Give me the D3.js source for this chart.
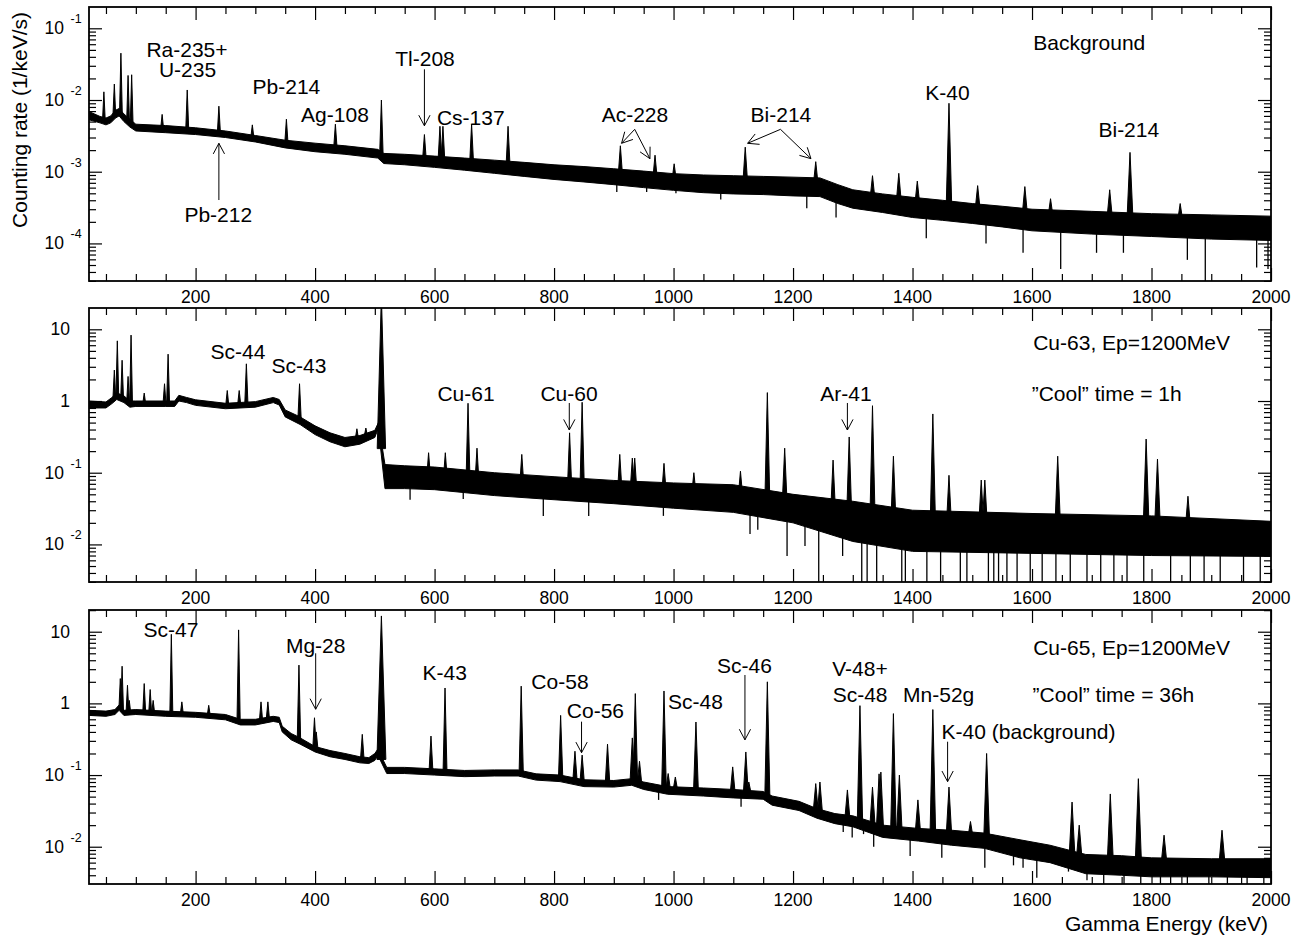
<!DOCTYPE html>
<html>
<head>
<meta charset="utf-8">
<script src="https://cdn.jsdelivr.net/npm/d3@7"></script>
<style>
  body { margin: 0; background: #fff; }
  svg text { font-family: "Liberation Sans", Arial, Helvetica, sans-serif; fill: #000; }
</style>
</head>
<body>
<div id="chart"></div>
<script>
// ---- shared x axis ----
const energyDomain = [21.6, 2000]
const xMajorTicks = [200, 400, 600, 800, 1000, 1200, 1400, 1600, 1800, 2000]

// ---- panel 1: background ----
const bgContE = [21.6, 40, 50, 58, 66, 72, 80, 90, 100, 150, 200, 250, 300, 350, 400, 450, 505, 515, 550, 600, 650, 700, 750, 800, 850, 900, 950, 1000, 1050, 1100, 1150, 1200, 1245, 1275, 1300, 1350, 1400, 1450, 1500, 1550, 1600, 1700, 1800, 1900, 2000]
const bgContLo = [5.3e-3, 4.8e-3, 4.5e-3, 4.8e-3, 5.6e-3, 6.0e-3, 5.0e-3, 4.2e-3, 3.7e-3, 3.5e-3, 3.3e-3, 3.0e-3, 2.6e-3, 2.15e-3, 1.9e-3, 1.75e-3, 1.55e-3, 1.3e-3, 1.25e-3, 1.15e-3, 1.05e-3, 0.95e-3, 0.86e-3, 0.78e-3, 0.72e-3, 0.66e-3, 0.6e-3, 0.55e-3, 0.51e-3, 0.49e-3, 0.48e-3, 0.46e-3, 0.45e-3, 0.36e-3, 0.31e-3, 0.27e-3, 0.23e-3, 0.21e-3, 0.19e-3, 0.17e-3, 0.15e-3, 0.135e-3, 0.125e-3, 0.115e-3, 0.11e-3]
const bgContHi = [6.9e-3, 5.9e-3, 5.6e-3, 6.0e-3, 7.2e-3, 7.6e-3, 6.4e-3, 5.4e-3, 4.6e-3, 4.4e-3, 4.1e-3, 3.7e-3, 3.2e-3, 2.75e-3, 2.5e-3, 2.3e-3, 2.05e-3, 1.8e-3, 1.75e-3, 1.65e-3, 1.55e-3, 1.45e-3, 1.35e-3, 1.25e-3, 1.18e-3, 1.1e-3, 1.02e-3, 0.94e-3, 0.9e-3, 0.88e-3, 0.86e-3, 0.84e-3, 0.82e-3, 0.66e-3, 0.56e-3, 0.49e-3, 0.44e-3, 0.4e-3, 0.36e-3, 0.33e-3, 0.3e-3, 0.28e-3, 0.26e-3, 0.25e-3, 0.24e-3]
const bgPeakE = [46.5, 64, 75, 87, 93, 144, 186, 239, 295, 352, 434, 511, 583, 609, 614, 662, 723, 911, 969, 1001, 1120, 1238, 1333, 1377, 1408, 1461, 1509, 1588, 1631, 1730, 1764, 1848]
const bgPeakTop = [1.3e-2, 1.67e-2, 4.5e-2, 2.2e-2, 2.25e-2, 6.3e-3, 1.38e-2, 8.2e-3, 4.5e-3, 5.4e-3, 4.6e-3, 1.0e-2, 3.3e-3, 4.3e-3, 4.3e-3, 4.6e-3, 4.3e-3, 2.3e-3, 1.7e-3, 1.29e-3, 2.2e-3, 1.38e-3, 8.8e-4, 9.5e-4, 7.4e-4, 9.0e-3, 6.4e-4, 6.2e-4, 4.2e-4, 5.6e-4, 1.86e-3, 3.6e-4]
const bgDipE = [905, 955, 1004, 1079, 1223, 1272, 1423, 1523, 1585, 1648, 1708, 1753, 1860, 1890, 1976, 1995]
const bgDipVal = [5.2e-4, 5.2e-4, 5.0e-4, 4.1e-4, 3.1e-4, 2.3e-4, 1.18e-4, 1.0e-4, 7.4e-5, 4.4e-5, 7.4e-5, 7.4e-5, 5.9e-5, 2.5e-5, 4.6e-5, 4.4e-5]

// ---- panel 2: Cu-63, 1 h ----
const cu63ContE = [21.6, 50, 60, 68, 80, 90, 100, 150, 165, 172, 185, 200, 250, 300, 330, 340, 350, 375, 400, 425, 450, 475, 500, 506, 517, 550, 600, 700, 800, 900, 1000, 1100, 1200, 1300, 1400, 1600, 1800, 2000]
const cu63ContLo = [0.8, 0.8, 0.92, 1.05, 0.95, 0.82, 0.84, 0.84, 0.84, 1.0, 0.95, 0.87, 0.78, 0.82, 0.95, 0.88, 0.6, 0.47, 0.34, 0.27, 0.23, 0.25, 0.31, 0.42, 0.06, 0.06, 0.058, 0.048, 0.042, 0.037, 0.032, 0.028, 0.02, 0.011, 0.008, 0.0075, 0.007, 0.0068]
const cu63ContHi = [1.0, 0.97, 1.12, 1.3, 1.18, 1.0, 1.0, 1.0, 1.0, 1.2, 1.12, 1.04, 0.93, 0.98, 1.12, 1.05, 0.75, 0.6, 0.45, 0.36, 0.31, 0.33, 0.39, 0.5, 0.13, 0.125, 0.12, 0.1, 0.088, 0.078, 0.072, 0.068, 0.05, 0.04, 0.03, 0.027, 0.025, 0.021]
const cu63PeakE = [64, 69, 77, 87, 92, 114, 148, 154, 253, 273, 285, 374, 470, 485, 511, 590, 618, 656, 671, 746, 826, 847, 910, 931, 935, 984, 1034, 1112, 1157, 1186, 1267, 1294, 1333, 1368, 1434, 1461, 1515, 1521, 1643, 1791, 1810, 1861]
const cu63PeakTop = [2.7, 6.9, 3.7, 2.2, 8.3, 1.29, 1.74, 4.5, 1.4, 1.4, 3.3, 1.74, 0.41, 0.42, 30, 0.19, 0.19, 0.93, 0.22, 0.18, 0.36, 0.96, 0.18, 0.16, 0.16, 0.135, 0.1, 0.105, 1.31, 0.22, 0.15, 0.315, 0.86, 0.17, 0.66, 0.092, 0.079, 0.079, 0.17, 0.295, 0.155, 0.047]
const cu63DipE = [559, 648, 782, 858, 983, 1128, 1141, 1190, 1220, 1243, 1283, 1315, 1324, 1340, 1382, 1388, 1424, 1447, 1480, 1491, 1527, 1536, 1544, 1558, 1575, 1597, 1617, 1640, 1664, 1692, 1715, 1737, 1759, 1787, 1832, 1865, 1888, 1915, 1954, 1982]
const cu63DipVal = [0.042, 0.043, 0.025, 0.025, 0.025, 0.014, 0.016, 0.0069, 0.0095, 0.002, 0.0069, 0.002, 0.002, 0.002, 0.002, 0.002, 0.002, 0.002, 0.002, 0.002, 0.002, 0.002, 0.002, 0.002, 0.002, 0.002, 0.002, 0.002, 0.002, 0.002, 0.002, 0.002, 0.002, 0.002, 0.002, 0.002, 0.002, 0.002, 0.002, 0.002]

// ---- panel 3: Cu-65, 36 h ----
const cu65ContE = [21.6, 50, 65, 72, 80, 100, 150, 200, 250, 275, 300, 330, 340, 345, 360, 375, 400, 425, 450, 475, 490, 500, 505, 520, 550, 600, 650, 700, 740, 770, 810, 850, 900, 930, 950, 990, 1050, 1100, 1150, 1165, 1210, 1240, 1270, 1300, 1350, 1410, 1465, 1520, 1580, 1630, 1690, 1750, 1800, 1900, 2000]
const cu65ContLo = [0.68, 0.66, 0.7, 0.8, 0.68, 0.7, 0.66, 0.64, 0.59, 0.5, 0.5, 0.56, 0.54, 0.4, 0.31, 0.27, 0.21, 0.18, 0.165, 0.148, 0.145, 0.16, 0.19, 0.105, 0.105, 0.1, 0.095, 0.097, 0.097, 0.085, 0.081, 0.069, 0.068, 0.072, 0.063, 0.054, 0.051, 0.048, 0.046, 0.038, 0.032, 0.025, 0.021, 0.019, 0.0135, 0.012, 0.0105, 0.0095, 0.007, 0.006, 0.0042, 0.004, 0.0038, 0.0038, 0.0037]
const cu65ContHi = [0.8, 0.78, 0.82, 0.95, 0.8, 0.82, 0.78, 0.75, 0.7, 0.6, 0.6, 0.66, 0.64, 0.48, 0.38, 0.33, 0.25, 0.22, 0.2, 0.18, 0.175, 0.2, 0.23, 0.128, 0.128, 0.122, 0.116, 0.118, 0.118, 0.104, 0.1, 0.086, 0.084, 0.089, 0.08, 0.069, 0.066, 0.063, 0.059, 0.051, 0.043, 0.034, 0.029, 0.027, 0.02, 0.018, 0.017, 0.0155, 0.0125, 0.0105, 0.0078, 0.0075, 0.007, 0.0068, 0.0068]
const cu65PeakE = [74, 77, 86, 89, 114, 124, 129, 159.4, 177, 222, 272, 309.5, 321, 373, 399, 402, 479, 511, 594, 617.5, 745, 811, 835, 847, 889.5, 931, 936, 943, 984, 991, 1003, 1037.5, 1099, 1121, 1126, 1157, 1238, 1245, 1291, 1312, 1333, 1344, 1347, 1368, 1378, 1409, 1434, 1461, 1497, 1524, 1667, 1679, 1731, 1778, 1821, 1918]
const cu65PeakTop = [2.22, 3.3, 1.79, 1.1, 1.89, 1.56, 1.1, 9.2, 1.05, 0.94, 10.6, 1.05, 1.05, 3.42, 0.63, 0.4, 0.37, 16.6, 0.35, 1.64, 1.74, 0.68, 0.215, 0.19, 0.27, 0.33, 1.37, 0.156, 1.49, 0.105, 0.094, 0.55, 0.13, 0.21, 0.08, 2.0, 0.076, 0.08, 0.062, 0.93, 0.068, 0.104, 0.11, 0.72, 0.1, 0.045, 0.82, 0.068, 0.0225, 0.2, 0.042, 0.02, 0.0545, 0.089, 0.0145, 0.017]
const cu65DipE = [975, 1113, 1284, 1299, 1318, 1335, 1396, 1449, 1521, 1569, 1585, 1608, 1661, 1692, 1720, 1754, 1782, 1815, 1832, 1860, 1896, 1927, 1960, 1988]
const cu65DipVal = [0.045, 0.036, 0.016, 0.0135, 0.015, 0.01, 0.0074, 0.007, 0.0051, 0.0055, 0.0051, 0.0037, 0.0045, 0.0034, 0.0025, 0.0028, 0.0025, 0.0025, 0.0028, 0.0025, 0.0025, 0.0028, 0.0025, 0.0025]

// ---- annotations (text, energy, value, anchor) ----
const bgLabels = [
  ['Ra-235+', 185.6, 0.0398, 'middle'], ['U-235', 186.5, 0.0207, 'middle'],
  ['Pb-214', 352, 0.0120, 'middle'], ['Ag-108', 433.3, 4.98e-3, 'middle'],
  ['Pb-212', 238, 2.01e-4, 'middle'], ['Tl-208', 584, 0.0298, 'middle'],
  ['Cs-137', 660.6, 4.48e-3, 'middle'], ['Ac-228', 935.4, 4.98e-3, 'middle'],
  ['Bi-214', 1179.7, 4.98e-3, 'middle'], ['K-40', 1458.4, 1.0e-2, 'middle'],
  ['Bi-214', 1762, 3.08e-3, 'middle'], ['Background', 1602, 0.0498, 'start']
]
const bgArrows = [
  [239, 4.03e-4, 239, 2.49e-3], [583, 0.0268, 583, 4.37e-3],
  [935, 3.9e-3, 913, 2.49e-3], [935, 3.9e-3, 960.5, 1.52e-3],
  [1179, 3.9e-3, 1124, 2.49e-3], [1179, 3.9e-3, 1230, 1.52e-3]
]
const cu63Labels = [
  ['Sc-44', 270.9, 3.81, 'middle'], ['Sc-43', 373, 2.48, 'middle'],
  ['Cu-61', 652.6, 1.0, 'middle'], ['Cu-60', 825, 1.0, 'middle'],
  ['Ar-41', 1288.6, 1.0, 'middle'],
  ['Cu-63, Ep=1200MeV', 1602, 5.14, 'start'], ['\u201DCool\u201D time = 1h', 1599.4, 1.0, 'start']
]
const cu63Arrows = [[825.5, 0.938, 825.5, 0.394], [1291, 0.938, 1291, 0.394]]
const cu65Labels = [
  ['Sc-47', 158.8, 8.36, 'middle'], ['Mg-28', 401, 5.09, 'middle'],
  ['K-43', 616.9, 2.12, 'middle'], ['Co-58', 809.9, 1.575, 'middle'],
  ['Co-56', 869.3, 0.62, 'middle'], ['Sc-48', 1036.7, 0.826, 'middle'],
  ['Sc-46', 1118.7, 2.63, 'middle'], ['V-48+', 1265.6, 2.41, 'start'],
  ['Sc-48', 1266.3, 1.057, 'start'], ['Mn-52g', 1443.8, 1.057, 'middle'],
  ['K-40 (background)', 1448.7, 0.316, 'start'],
  ['Cu-65, Ep=1200MeV', 1602, 4.77, 'start'], ['\u201DCool\u201D time = 36h', 1601, 1.057, 'start']
]
const cu65Arrows = [
  [401, 5.0, 401, 0.828], [846, 0.556, 846, 0.205],
  [1119.5, 2.49, 1119.5, 0.31], [1458.7, 0.292, 1458.7, 0.081]
]

// ---- layout ----
const width = 1299
const height = 941
const plotLeft = 89
const plotRight = 1271
const panelH = 274
const tickFont = 17.5
const labelFont = 21

const panels = [
  { top: 7, logMin: -4.524, logMax: -0.703, e: bgContE, lo: bgContLo, hi: bgContHi,
    pe: bgPeakE, pt: bgPeakTop, de: bgDipE, dv: bgDipVal, labels: bgLabels, arrows: bgArrows, annihW: 3 },
  { top: 308, logMin: -2.524, logMax: 1.297, e: cu63ContE, lo: cu63ContLo, hi: cu63ContHi,
    pe: cu63PeakE, pt: cu63PeakTop, de: cu63DipE, dv: cu63DipVal, labels: cu63Labels, arrows: cu63Arrows, annihW: 7 },
  { top: 610, logMin: -2.52, logMax: 1.303, e: cu65ContE, lo: cu65ContLo, hi: cu65ContHi,
    pe: cu65PeakE, pt: cu65PeakTop, de: cu65DipE, dv: cu65DipVal, labels: cu65Labels, arrows: cu65Arrows, annihW: 7.5 }
]

const svg = d3.select('#chart').append('svg')
  .attr('width', width)
  .attr('height', height)

const x = d3.scaleLinear().domain(energyDomain).range([plotLeft, plotRight])

panels.forEach((p, i) => drawPanel(p, i))

// axis titles
svg.append('text')
  .attr('transform', 'translate(27,120) rotate(-90)')
  .attr('text-anchor', 'middle')
  .style('font-size', labelFont + 'px')
  .text('Counting rate (1/keV/s)')

svg.append('text')
  .attr('x', 1268)
  .attr('y', 931)
  .attr('text-anchor', 'end')
  .style('font-size', labelFont + 'px')
  .text('Gamma Energy (keV)')

function drawPanel(p, i) {
  const bottom = p.top + panelH
  const y = d3.scaleLog().domain([10 ** p.logMin, 10 ** p.logMax]).range([bottom, p.top])
  const g = svg.append('g')

  g.append('clipPath').attr('id', 'clip' + i)
    .append('rect')
    .attr('x', plotLeft).attr('y', p.top)
    .attr('width', plotRight - plotLeft).attr('height', panelH)

  const plot = g.append('g').attr('clip-path', `url(#clip${i})`)

  // continuum band
  const cont = p.e.map((e, j) => ({ e: e, lo: p.lo[j], hi: p.hi[j] }))
  const area = d3.area()
    .x(d => x(d.e))
    .y0(d => y(d.lo))
    .y1(d => y(d.hi))
  plot.append('path')
    .datum(cont)
    .attr('d', area)
    .attr('fill', '#000')
    .attr('stroke', '#000')
    .attr('stroke-width', 1)
    .attr('stroke-linejoin', 'round')

  // piecewise scale giving the middle of the band (log) at any energy
  const midLog = d3.scaleLinear()
    .domain(p.e)
    .range(p.e.map((e, j) => (Math.log10(p.lo[j]) + Math.log10(p.hi[j])) / 2))
    .clamp(true)

  // peaks
  const peaks = p.pe.map((e, j) => ({ e: e, top: p.pt[j] }))
  plot.selectAll('.peak')
    .data(peaks)
    .enter()
    .append('path')
    .attr('class', 'peak')
    .attr('d', d => {
      const w = Math.abs(d.e - 511) < 1 ? p.annihW : 2.2 + 0.0018 * d.e
      const base = y(10 ** midLog(d.e))
      return `M${x(d.e - w)},${base}L${x(d.e)},${y(d.top)}L${x(d.e + w)},${base}Z`
    })
    .attr('fill', '#000')
    .attr('stroke', '#000')
    .attr('stroke-width', 1)
    .attr('stroke-linejoin', 'round')

  // downward noise excursions
  const dips = p.de.map((e, j) => ({ e: e, v: p.dv[j] }))
  plot.selectAll('.dip')
    .data(dips)
    .enter()
    .append('line')
    .attr('class', 'dip')
    .attr('x1', d => x(d.e)).attr('x2', d => x(d.e))
    .attr('y1', d => y(10 ** midLog(d.e)))
    .attr('y2', d => y(d.v))
    .attr('stroke', '#000')
    .attr('stroke-width', 1.3)

  // ticks (all inward)
  const xMinor = d3.range(50, 2000, 50).filter(v => v % 200 !== 0)
  const decades = d3.range(Math.ceil(p.logMin), Math.floor(p.logMax) + 1)
  const yMinor = []
  d3.range(Math.floor(p.logMin), Math.ceil(p.logMax)).forEach(d => {
    for (let k = 2; k <= 9; k++) {
      const v = k * 10 ** d
      if (Math.log10(v) > p.logMin && Math.log10(v) < p.logMax) yMinor.push(v)
    }
  })
  const yMajor = decades.map(d => 10 ** d)

  const axes = [
    [d3.axisBottom(x).tickValues(xMajorTicks), `translate(0,${bottom})`, -13],
    [d3.axisBottom(x).tickValues(xMinor), `translate(0,${bottom})`, -7],
    [d3.axisTop(x).tickValues(xMajorTicks), `translate(0,${p.top})`, -13],
    [d3.axisTop(x).tickValues(xMinor), `translate(0,${p.top})`, -7],
    [d3.axisLeft(y).tickValues(yMajor), `translate(${plotLeft},0)`, -13],
    [d3.axisLeft(y).tickValues(yMinor), `translate(${plotLeft},0)`, -7],
    [d3.axisRight(y).tickValues(yMajor), `translate(${plotRight},0)`, -13],
    [d3.axisRight(y).tickValues(yMinor), `translate(${plotRight},0)`, -7]
  ]
  axes.forEach(a => {
    const ax = g.append('g')
      .attr('transform', a[1])
      .call(a[0].tickSize(a[2]).tickFormat(''))
    ax.select('.domain').remove()
    ax.selectAll('line').attr('stroke', '#000').attr('stroke-width', 1.2)
  })

  // frame
  g.append('rect')
    .attr('x', plotLeft).attr('y', p.top)
    .attr('width', plotRight - plotLeft).attr('height', panelH)
    .attr('fill', 'none')
    .attr('stroke', '#000')
    .attr('stroke-width', 1.8)

  // x tick labels
  g.selectAll('.xlab')
    .data(xMajorTicks)
    .enter()
    .append('text')
    .attr('class', 'xlab')
    .attr('x', d => x(d))
    .attr('y', bottom + 22)
    .attr('text-anchor', 'middle')
    .style('font-size', tickFont + 'px')
    .text(d => d)

  // y tick labels: 10 with exponent
  decades.forEach(d => {
    const yy = y(10 ** d)
    if (d === 0 || d === 1) {
      g.append('text')
        .attr('x', 70).attr('y', yy + 6)
        .attr('text-anchor', 'end')
        .style('font-size', tickFont + 'px')
        .text(d === 0 ? '1' : '10')
    } else {
      g.append('text')
        .attr('x', 64).attr('y', yy + 6)
        .attr('text-anchor', 'end')
        .style('font-size', tickFont + 'px')
        .text('10')
      g.append('text')
        .attr('x', 70.5).attr('y', yy - 5)
        .attr('text-anchor', 'start')
        .style('font-size', '12.5px')
        .text(d)
    }
  })

  // annotations
  p.labels.forEach(l => {
    g.append('text')
      .attr('x', x(l[1]))
      .attr('y', y(l[2]))
      .attr('text-anchor', l[3])
      .style('font-size', labelFont + 'px')
      .text(l[0])
  })

  p.arrows.forEach(a => {
    const x0 = x(a[0]), y0 = y(a[1]), x1 = x(a[2]), y1 = y(a[3])
    const ang = Math.atan2(y1 - y0, x1 - x0)
    const len = 12, spread = 28 * Math.PI / 180
    const hx1 = x1 - len * Math.cos(ang - spread), hy1 = y1 - len * Math.sin(ang - spread)
    const hx2 = x1 - len * Math.cos(ang + spread), hy2 = y1 - len * Math.sin(ang + spread)
    g.append('path')
      .attr('d', `M${x0},${y0}L${x1},${y1}M${hx1},${hy1}L${x1},${y1}L${hx2},${hy2}`)
      .attr('fill', 'none')
      .attr('stroke', '#000')
      .attr('stroke-width', 1)
  })
}
</script>
</body>
</html>
